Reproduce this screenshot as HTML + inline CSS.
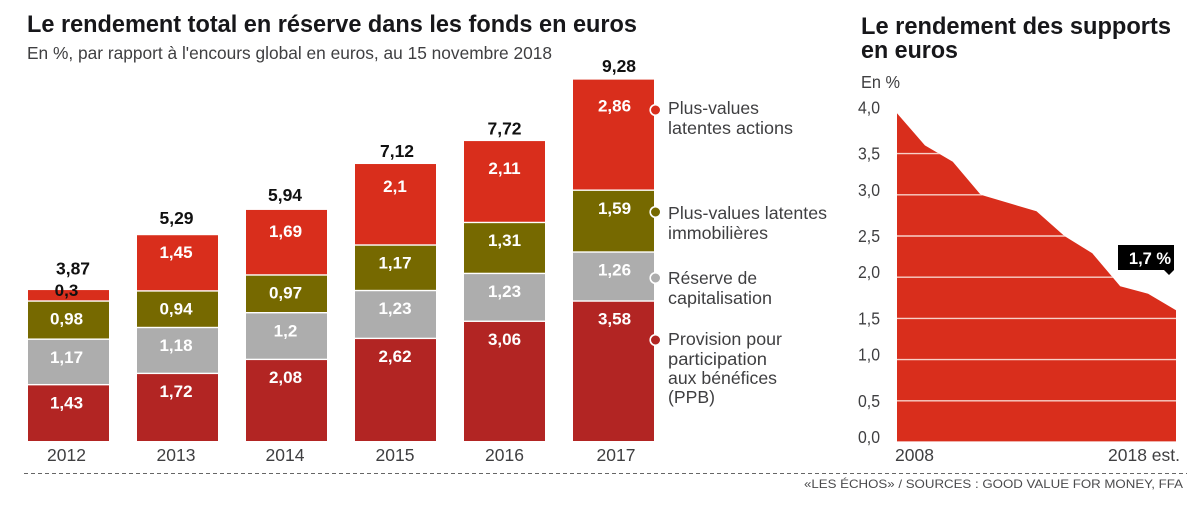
<!DOCTYPE html>
<html lang="fr">
<head>
<meta charset="utf-8">
<title>Le rendement total en réserve dans les fonds en euros</title>
<style>
html,body{margin:0;padding:0;background:#fff;width:1200px;height:512px;overflow:hidden}
svg{display:block}
text{font-family:"Liberation Sans",sans-serif}
.title{font-size:24px;font-weight:700;fill:#17171a}
.light{font-size:17.5px;fill:#3f3f41}
.legend{font-size:17.5px;fill:#3f3f41}
.val{font-size:17px;font-weight:700;fill:#fff;text-anchor:middle}
.total{font-size:17.5px;font-weight:700;fill:#111;text-anchor:middle}
</style>
</head>
<body>
<svg id="chart" xmlns="http://www.w3.org/2000/svg" width="1200" height="512" viewBox="0 0 1200 512">
  <rect x="0" y="0" width="1200" height="512" fill="#fff"/>
  <text class="title" x="27" y="32" textLength="610" lengthAdjust="spacingAndGlyphs">Le rendement total en réserve dans les fonds en euros</text>
  <text class="light" x="27" y="59" textLength="525" lengthAdjust="spacingAndGlyphs">En %, par rapport à l'encours global en euros, au 15 novembre 2018</text>
  <g id="bars"></g>

  <g>
    <circle cx="655.5" cy="110" r="5.3" fill="#d92e1c" stroke="#fff" stroke-width="1.6"/>
    <text class="legend"><tspan x="668" y="114" textLength="91" lengthAdjust="spacingAndGlyphs">Plus-values</tspan><tspan x="668" y="134" textLength="125" lengthAdjust="spacingAndGlyphs">latentes actions</tspan></text>
    <circle cx="655.5" cy="212" r="5.3" fill="#766900" stroke="#fff" stroke-width="1.6"/>
    <text class="legend"><tspan x="668" y="219" textLength="159" lengthAdjust="spacingAndGlyphs">Plus-values latentes</tspan><tspan x="668" y="239" textLength="100" lengthAdjust="spacingAndGlyphs">immobilières</tspan></text>
    <circle cx="655.5" cy="278" r="5.3" fill="#adadad" stroke="#fff" stroke-width="1.6"/>
    <text class="legend"><tspan x="668" y="284" textLength="89" lengthAdjust="spacingAndGlyphs">Réserve de</tspan><tspan x="668" y="304" textLength="104" lengthAdjust="spacingAndGlyphs">capitalisation</tspan></text>
    <circle cx="655.5" cy="340" r="5.3" fill="#b22523" stroke="#fff" stroke-width="1.6"/>
    <text class="legend"><tspan x="668" y="345" textLength="114" lengthAdjust="spacingAndGlyphs">Provision pour</tspan><tspan x="668" y="365" textLength="99" lengthAdjust="spacingAndGlyphs">participation</tspan><tspan x="668" y="384" textLength="109" lengthAdjust="spacingAndGlyphs">aux bénéfices</tspan><tspan x="668" y="403" textLength="47" lengthAdjust="spacingAndGlyphs">(PPB)</tspan></text>
  </g>

  <text class="title"><tspan x="861" y="34" textLength="310" lengthAdjust="spacingAndGlyphs">Le rendement des supports</tspan><tspan x="861" y="58" textLength="97" lengthAdjust="spacingAndGlyphs">en euros</tspan></text>
  <text class="light" x="861" y="88" textLength="39" lengthAdjust="spacingAndGlyphs">En %</text>
  <g id="area"></g>

  <g>
    <path d="M1118 245H1174V270L1169 275L1164 270H1118Z" fill="#000"/>
    <text x="1150" y="264" text-anchor="middle" font-size="16.5" font-weight="700" fill="#fff">1,7 %</text>
  </g>

  <line x1="24" y1="473.5" x2="1187" y2="473.5" stroke="#666" stroke-width="1" stroke-dasharray="4 3"/>
  <text x="804" y="488" font-size="12" fill="#4a4a4c" textLength="379" lengthAdjust="spacingAndGlyphs">«LES ÉCHOS» / SOURCES : GOOD VALUE FOR MONEY, FFA</text>
</svg>
<script>
const years = ['2012', '2013', '2014', '2015', '2016', '2017'];
const provision = [1.43, 1.72, 2.08, 2.62, 3.06, 3.58];
const reserve = [1.17, 1.18, 1.2, 1.23, 1.23, 1.26];
const immobilier = [0.98, 0.94, 0.97, 1.17, 1.31, 1.59];
const actions = [0.3, 1.45, 1.69, 2.1, 2.11, 2.86];
const totals = [3.87, 5.29, 5.94, 7.12, 7.72, 9.28];

const areaYears = [2008, 2009, 2010, 2011, 2012, 2013, 2014, 2015, 2016, 2017, 2018];
const areaValues = [3.99, 3.6, 3.4, 3.0, 2.9, 2.8, 2.5, 2.29, 1.89, 1.8, 1.6];
const areaTicks = [0, 0.5, 1, 1.5, 2, 2.5, 3, 3.5, 4];

const NS = 'http://www.w3.org/2000/svg';
function make(tag, parent, attrs, text) {
  const el = document.createElementNS(NS, tag);
  for (const k in attrs) el.setAttribute(k, attrs[k]);
  if (text !== undefined) el.textContent = text;
  parent.appendChild(el);
  return el;
}
const fmt = v => String(v).replace('.', ',');

/* axis functions: stacked bars */
const barBase = 441;
const barUnit = 38.9;
const barX = i => 28 + i * 109;
const barW = 81;
const barY = v => barBase - v * barUnit;

/* axis functions: area */
const areaX = yr => 897 + (yr - 2008) * 27.9;
const areaY = v => 442 - v * 82.4;

function drawBars() {
  const root = document.getElementById('bars');
  const series = [
    {key: 'provision', values: provision, color: '#b22523'},
    {key: 'reserve', values: reserve, color: '#adadad'},
    {key: 'immobilier', values: immobilier, color: '#766900'},
    {key: 'actions', values: actions, color: '#d92e1c'}
  ];
  const topLabelDy = [0, 17, 21, 22, 27, 26];
  const totalDy = [16, 11, 9, 7, 6, 8];
  const labelDx = [-2, -1.5, -1, -0.5, 0, 1];
  const totalDx = [4.5, -1, -1.5, 1.5, 0, 5.5];
  const tickDx = [-2, -1.5, -1.5, -0.5, 0, 2.5];
  years.forEach((yr, i) => {
    let cum = 0;
    series.forEach((s, si) => {
      const v = s.values[i];
      const top = barY(cum + v);
      const bottom = barY(cum) - (si === 0 ? 0 : 1.4);
      const rect = make('rect', root, {x: barX(i), y: top, width: barW, height: Math.max(bottom - top, 1), fill: s.color});
      
      
      const small = v < 0.5;
      const dy = si === 3 ? topLabelDy[i] : 17;
      const label = make('text', root, {class: 'val', x: barX(i) + barW / 2 + labelDx[i], y: top + dy + 6, style: small ? 'fill:#111' : ''}, fmt(v));
      
      
      cum += v;
    });
    const total = make('text', root, {class: 'total', x: barX(i) + barW / 2 + totalDx[i], y: barY(totals[i]) - totalDy[i]}, fmt(totals[i]));
    
    
    const tick = make('text', root, {class: 'light', x: barX(i) + barW / 2 + tickDx[i], y: 461, 'text-anchor': 'middle'}, yr);
    
    
  });
}

function drawArea() {
  const root = document.getElementById('area');
  const x0 = areaX(areaYears[0]);
  const x1 = areaX(areaYears[areaYears.length - 1]);
  const floor = areaY(0) - 0.6;
  const pts = areaYears.map((yr, i) => areaX(yr).toFixed(1) + ',' + areaY(areaValues[i]).toFixed(1));
  const d = 'M' + x0 + ',' + floor + ' L' + pts.join(' L') + ' L' + x1 + ',' + floor + 'Z';
  const defs = make('defs', root, {});
  const clip = make('clipPath', defs, {id: 'area-clip'});
  make('path', clip, {d: d});
  const shape = make('path', root, {d: d, fill: '#d92e1c'});
  
  
  const grid = make('g', root, {'clip-path': 'url(#area-clip)'});
  
  
  areaTicks.forEach(v => {
    if (v > 0 && v < 4) {
      const line = make('line', grid, {x1: x0, x2: x1, y1: areaY(v), y2: areaY(v), stroke: '#f8d0c8', 'stroke-width': 1.4});
      
      
    }
    const whole = Number.isInteger(v);
    const label = make('text', root, {class: 'light', x: 880, y: areaY(v) + (whole ? 1 : 6), 'text-anchor': 'end', textLength: 22, lengthAdjust: 'spacingAndGlyphs'}, v.toFixed(1).replace('.', ','));
    
    
  });
  const first = make('text', root, {class: 'light', x: 895, y: 461}, String(areaYears[0]));
  
  
  const last = make('text', root, {class: 'light', x: 1180, y: 461, 'text-anchor': 'end'}, areaYears[areaYears.length - 1] + ' est.');
  
  
}

drawBars();
drawArea();
</script>
</body>
</html>
